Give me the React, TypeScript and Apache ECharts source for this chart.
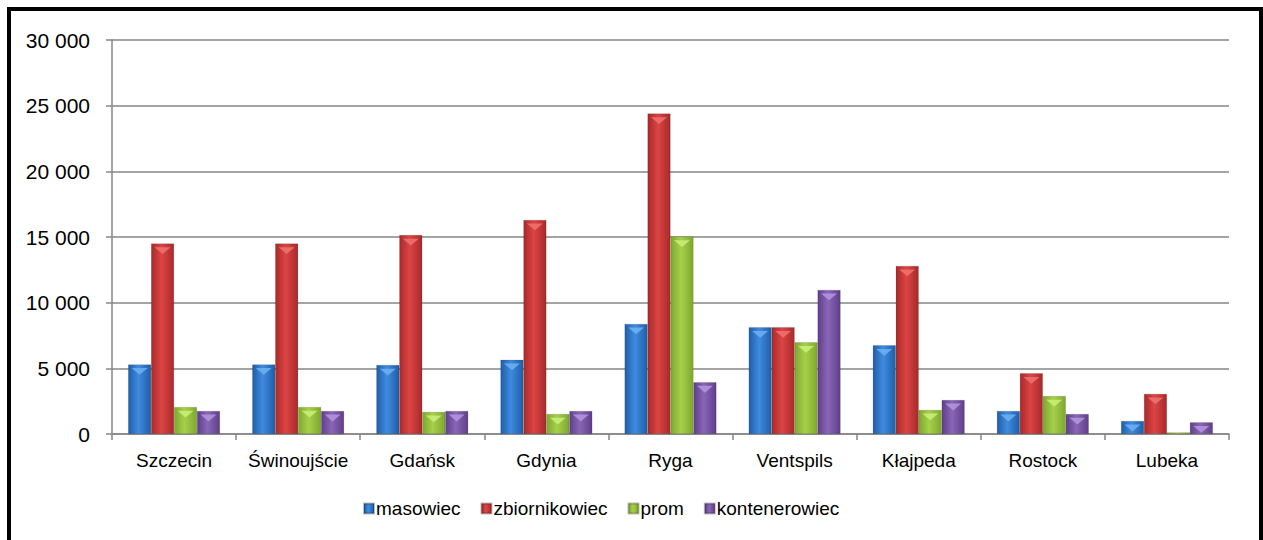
import React, { useEffect, useRef } from "react";
import * as echarts from "echarts";

const categories = ["Szczecin", "Świnoujście", "Gdańsk", "Gdynia", "Ryga", "Ventspils", "Kłajpeda", "Rostock", "Lubeka"];
const masowiec = [5300, 5300, 5250, 5650, 8380, 8120, 6750, 1750, 990];
const zbiornikowiec = [14500, 14500, 15150, 16300, 24400, 8120, 12800, 4620, 3050];
const prom = [2050, 2050, 1680, 1520, 15030, 6980, 1830, 2890, 120];
const kontenerowiec = [1750, 1750, 1750, 1750, 3940, 10970, 2590, 1520, 890];
const seriesNames = ["masowiec", "zbiornikowiec", "prom", "kontenerowiec"];

const palette = [
  ["#1f5ea8", "#3f8be0", "#1f5ea8"],
  ["#a82a2a", "#dc4444", "#a82a2a"],
  ["#7ea82e", "#a6d04a", "#7ea82e"],
  ["#5e3f88", "#8a66b8", "#5e3f88"],
];
const tops = ["#6fb2f2", "#f07272", "#cdef7a", "#b597e0"];

function grad(c: string[]) {
  return new echarts.graphic.LinearGradient(0, 0, 1, 0, [
    { offset: 0, color: c[0] },
    { offset: 0.45, color: c[1] },
    { offset: 1, color: c[2] },
  ]);
}

const FONT = "Liberation Sans, Arial, sans-serif";

export default function App() {
  const ref = useRef<HTMLDivElement>(null);
  useEffect(() => {
    document.body.style.overflow = "hidden";
    const chart = echarts.init(ref.current!, undefined, { renderer: "svg" });
    const data = [masowiec, zbiornikowiec, prom, kontenerowiec];
    const bars = seriesNames.map((name, i) => ({
      name,
      type: "bar",
      data: data[i],
      barGap: "0%",
      barCategoryGap: "26%",
      itemStyle: { color: grad(palette[i]), borderColor: "rgba(0,0,0,0.25)", borderWidth: 0.5 },
    }));
    const caps = seriesNames.map((name, i) => ({
      name,
      type: "pictorialBar",
      data: data[i].map((v) => (v > 400 ? v : "-")),
      barGap: "0%",
      barCategoryGap: "26%",
      symbol: "triangle",
      symbolRotate: 180,
      symbolSize: ["70%", 7],
      symbolPosition: "end",
      symbolOffset: [0, "50%"],
      itemStyle: { color: tops[i], opacity: 0.85 },
      z: 3,
    }));
    chart.setOption({
      animation: false,
      textStyle: { fontFamily: FONT },
      grid: { left: 101, right: 30, top: 29, bottom: 106 },
      legend: {
        top: 483,
        left: 347,
        itemWidth: 10,
        itemHeight: 10,
        itemGap: 20,
        icon: "rect",
        textStyle: { fontSize: 19, color: "#000", fontFamily: FONT, padding: [0, 0, 0, -3] },
        data: seriesNames,
      },
      xAxis: {
        type: "category",
        data: categories,
        axisLine: { lineStyle: { color: "#868686", width: 1.5 } },
        axisTick: { show: true, alignWithLabel: false, length: 6, lineStyle: { color: "#868686", width: 1.5 } },
        axisLabel: { fontSize: 19, color: "#000", margin: 17, fontFamily: FONT, interval: 0 },
      },
      yAxis: {
        type: "value",
        min: 0,
        max: 30000,
        interval: 5000,
        axisLine: { show: true, lineStyle: { color: "#868686", width: 1.5 } },
        axisTick: { show: true, length: 6, lineStyle: { color: "#868686", width: 1.5 } },
        splitLine: { lineStyle: { color: "#868686", width: 1.5 } },
        axisLabel: {
          fontSize: 21,
          color: "#000",
          margin: 22,
          fontFamily: FONT,
          formatter: (v: number) => String(v).replace(/\B(?=(\d{3})+(?!\d))/g, " "),
        },
      },
      series: [...bars, ...caps],
      color: ["#2e75c8", "#cf3b3b", "#9cc841", "#7b56a8"],
    });
    return () => chart.dispose();
  }, []);
  return (
    <div
      style={{
        position: "absolute",
        left: 7,
        top: 7,
        width: 1256,
        height: 533,
        boxSizing: "border-box",
        border: "4px solid #000",
        borderBottom: "none",
        background: "#fff",
      }}
    >
      <div ref={ref} style={{ width: 1248, height: 529 }} />
    </div>
  );
}
